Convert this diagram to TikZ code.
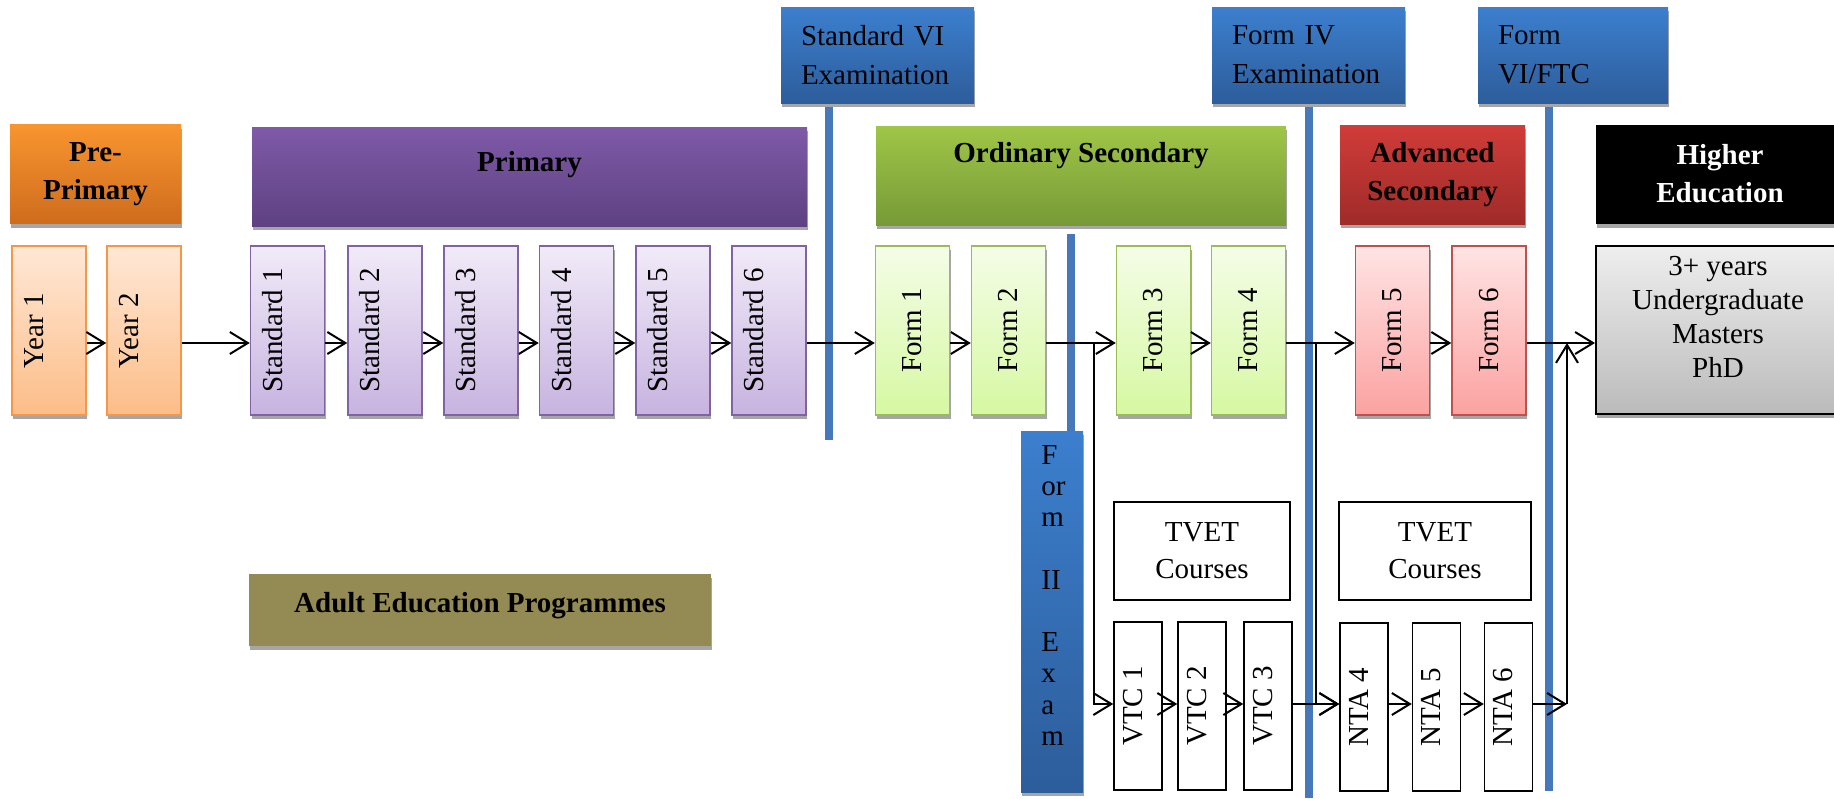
\documentclass[tikz,border=0pt]{standalone}
\usepackage{graphicx}
\usepackage{fontspec}
\setmainfont{Liberation Serif}
\usetikzlibrary{arrows.meta,shadows,calc}
\usepackage{xcolor}
\definecolor{yeartop}{HTML}{FFE8D6}
\definecolor{yearbot}{HTML}{FCBD88}
\definecolor{yearline}{HTML}{F79646}
\definecolor{pretop}{HTML}{F8952F}
\definecolor{prebot}{HTML}{CF6C1D}
\definecolor{stdtop}{HTML}{F1EBF8}
\definecolor{stdbot}{HTML}{C7B3E0}
\definecolor{stdline}{HTML}{8064A2}
\definecolor{primtop}{HTML}{7F5AA8}
\definecolor{primbot}{HTML}{5E4182}
\definecolor{formtop}{HTML}{F4FDE7}
\definecolor{formbot}{HTML}{D6F8A2}
\definecolor{formline}{HTML}{9BBB59}
\definecolor{ordtop}{HTML}{9FC647}
\definecolor{ordbot}{HTML}{779A37}
\definecolor{advftop}{HTML}{FFE4E4}
\definecolor{advfbot}{HTML}{FBA2A1}
\definecolor{advfline}{HTML}{C0504D}
\definecolor{advtop}{HTML}{D13C39}
\definecolor{advbot}{HTML}{9F2B29}
\definecolor{hightop}{HTML}{EEEEEE}
\definecolor{highbot}{HTML}{BBBBBB}
\definecolor{extop}{HTML}{3C7FCE}
\definecolor{exbot}{HTML}{2D5D9B}
\definecolor{barblue}{HTML}{4678BA}
\definecolor{adultfill}{HTML}{948A54}
\definecolor{shadowgray}{HTML}{A6A6A6}

\begin{document}
\begin{tikzpicture}[x=0.5pt,y=-0.5pt,
  boxshadow/.style={drop shadow={shadow xshift=0.5pt,shadow yshift=-2pt,fill=shadowgray,opacity=1}},
  hdbox/.style={boxshadow,inner sep=0pt,minimum height=49.5pt,align=center,font=\bfseries\fontsize{14.5pt}{19pt}\selectfont},
  hdtext/.style={inner sep=0pt,font=\bfseries\fontsize{14.5pt}{19pt}\selectfont},
  exbox/.style={boxshadow,top color=extop,bottom color=exbot,inner xsep=10pt,inner ysep=0pt,minimum height=48pt,align=left,font=\fontsize{14.5pt}{19.5pt}\selectfont},
  gradebox/.style={boxshadow,line width=0.75pt,inner sep=0pt,minimum width=37pt,minimum height=84.5pt,font=\fontsize{14.5pt}{18pt}\selectfont},
  yearbox/.style={gradebox,draw=yearline,top color=yeartop,bottom color=yearbot},
  stdbox/.style={gradebox,draw=stdline,top color=stdtop,bottom color=stdbot},
  formbox/.style={gradebox,draw=formline,top color=formtop,bottom color=formbot},
  advformbox/.style={gradebox,draw=advfline,top color=advftop,bottom color=advfbot},
  highbox/.style={boxshadow,draw=black,line width=1pt,top color=hightop,bottom color=highbot,inner sep=0pt,minimum width=122pt,minimum height=84pt},
  tvetbox/.style={draw=black,line width=0.75pt,inner sep=0pt,minimum height=49pt,align=center,font=\fontsize{14.5pt}{18.5pt}\selectfont},
  vtcbox/.style={draw=black,line width=0.75pt,inner sep=0pt,minimum width=24pt,minimum height=84pt,font=\fontsize{14.5pt}{18pt}\selectfont},
  bar/.style={draw=barblue,line width=4pt},
  arr/.style={line width=1pt,-{Straight Barb[length=9pt,width=11pt]}}]
\useasboundingbox (0,0) rectangle (1834,798);
\coordinate (toprow) at (0,343);
\coordinate (lowrow) at (0,704);
% Drawing exam bars
\draw[bar] (829,103) -- (829,440);
\draw[bar] (1070.5,234) -- (1070.5,431);
\draw[bar] (1308.5,103) -- (1308.5,798);
\draw[bar] (1549,103) -- (1549,791);
% Drawing exam boxes
\node[exbox,text width=76.5pt] (ex6) at (877.5,55) {Standard VI\\Examination};
\node[exbox,text width=76.5pt] (ex4) at (1308.5,55) {Form IV\\Examination};
\node[exbox,text width=75pt] (ex6f) at (1573,55) {Form\\VI/FTC};
\node[exbox,minimum width=31pt,minimum height=180.5pt] (ex2) at (1052,611.5) {};
\node[anchor=north west,inner sep=0pt,align=left,font=\fontsize{14.5pt}{15.6pt}\selectfont] (ex2text) at (1041,445) {F\\or\\m\\\mbox{}\\II\\\mbox{}\\E\\x\\a\\m};
% Drawing stage headers
\node[hdbox,top color=pretop,bottom color=prebot,minimum width=85.5pt] (pre) at (95.5,174) {Pre-\\Primary};
\node[hdbox,top color=primtop,bottom color=primbot,minimum width=277.5pt] (prim) at (529.5,176.5) {};
\node[hdtext] (primtext) at ([yshift=6pt]prim.center) {Primary};
\node[hdbox,top color=ordtop,bottom color=ordbot,minimum width=205pt] (ord) at (1081,175.5) {};
\node[hdtext] (ordtext) at ([yshift=10pt]ord.center) {Ordinary Secondary};
\node[hdbox,top color=advtop,bottom color=advbot,minimum width=92.5pt] (adv) at (1432.5,174.5) {Advanced\\Secondary};
\node[hdbox,fill=black,text=white,minimum width=124pt] (high) at (1720,174) {Higher\\Education};
\node[hdbox,fill=adultfill,minimum width=231pt,minimum height=36pt] (adult) at (480,610) {};
\node[hdtext] (adulttext) at ([yshift=2pt]adult.center) {Adult Education Programmes};
% Drawing year boxes
\node[yearbox] (yr1) at (49,330.5) {\rotatebox{90}{Year 1}\rule{15pt}{0pt}};
\node[yearbox] (yr2) at (144,330.5) {\rotatebox{90}{Year 2}\rule{15pt}{0pt}};
\foreach \i/\x in {1/287.5,2/385,3/481,4/576.5,5/673,6/769}
  \node[stdbox] (std\i) at (\x,330.5) {\rotatebox{90}{Standard \i}\rule{15pt}{0pt}};
\foreach \i/\x in {1/912.5,2/1008.5,3/1153.5,4/1248.5}
  \node[formbox] (f\i) at (\x,330.5) {\rotatebox{90}{Form \i}};
\foreach \i/\x in {5/1392.5,6/1489}
  \node[advformbox] (f\i) at (\x,330.5) {\rotatebox{90}{Form \i}};
\node[highbox] (hbox) at (1718,330) {};
\node[inner sep=0pt,align=center,font=\fontsize{14.5pt}{17pt}\selectfont] (hboxtext) at ([yshift=6.5pt]hbox.center) {3+ years\\Undergraduate\\Masters\\PhD};
% Drawing vocational boxes
\node[tvetbox,minimum width=88pt] (tvet1) at (1202,551) {TVET\\Courses};
\node[tvetbox,minimum width=96pt] (tvet2) at (1435,551) {TVET\\Courses};
\foreach \i/\x in {1/1138,2/1202,3/1268}
  \node[vtcbox] (vtc\i) at (\x,706) {\rotatebox{90}{VTC \i}\rule{5pt}{0pt}};
\foreach \i/\x in {4/1364,5/1436.5,6/1508.5}
  \node[vtcbox] (nta\i) at (\x,707) {\rotatebox{90}{NTA \i}\rule{5pt}{0pt}};
% Drawing connectors
\foreach \a/\b in {yr1/yr2,yr2/std1,std1/std2,std2/std3,std3/std4,std4/std5,std5/std6,std6/f1,f1/f2,f2/f3,f3/f4,f4/f5,f5/f6,f6/hbox}
  \draw[arr] (\a.east |- toprow) -- (\b.west |- toprow);
\foreach \a/\b in {vtc1/vtc2,vtc2/vtc3,vtc3/nta4,nta4/nta5,nta5/nta6}
  \draw[arr] (\a.east |- lowrow) -- (\b.west |- lowrow);
\coordinate (dropvtc) at (1094,343);
\coordinate (dropnta) at (1316,343);
\coordinate (rise) at (1567,704);
\draw[arr] (dropvtc) |- (vtc1.west |- lowrow);
\draw[arr] (dropnta) |- (nta4.west |- lowrow);
\draw[arr] (nta6.east |- lowrow) -- (rise);
\draw[arr] (rise) -- (rise |- toprow);
\end{tikzpicture}
\end{document}
